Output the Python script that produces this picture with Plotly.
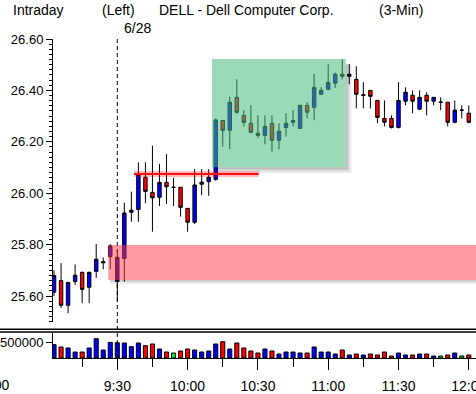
import plotly.graph_objects as go
import pandas as pd

# ---------------- data ----------------
start_time = "2002-06-28 09:03"
n_bars = 60
opens = [25.615, 25.660, 25.564, 25.656, 25.692, 25.634, 25.696, 25.729, 25.753, 25.656,
         25.746, 25.926, 25.937, 26.062, 26.003, 25.984, 26.042, 26.023, 26.023, 25.941,
         25.887, 26.035, 26.045, 26.054, 26.283, 26.245, 26.373, 26.303, 26.272, 26.233,
         26.225, 26.272, 26.206, 26.256, 26.276, 26.252, 26.342, 26.334, 26.385, 26.404,
         26.428, 26.463, 26.455, 26.443, 26.380, 26.400, 26.361, 26.291, 26.291, 26.256,
         26.358, 26.381, 26.327, 26.381, 26.358, 26.354, 26.354, 26.276, 26.323, 26.311]
highs = [25.700, 25.728, 25.655, 25.723, 25.695, 25.695, 25.802, 25.750, 25.802, 25.780,
         25.963, 26.006, 26.120, 26.120, 26.185, 26.114, 26.152, 26.060, 26.023, 25.941,
         26.094, 26.094, 26.094, 26.291, 26.283, 26.376, 26.443, 26.324, 26.343, 26.303,
         26.303, 26.303, 26.272, 26.311, 26.324, 26.342, 26.355, 26.464, 26.412, 26.502,
         26.469, 26.521, 26.502, 26.494, 26.432, 26.400, 26.361, 26.361, 26.303, 26.432,
         26.412, 26.400, 26.400, 26.393, 26.373, 26.373, 26.354, 26.361, 26.342, 26.342]
lows = [25.600, 25.553, 25.533, 25.643, 25.572, 25.572, 25.671, 25.704, 25.704, 25.580,
        25.656, 25.889, 25.889, 25.961, 25.850, 25.950, 25.958, 25.950, 25.909, 25.850,
        25.880, 25.993, 25.990, 26.049, 26.181, 26.171, 26.308, 26.259, 26.233, 26.214,
        26.190, 26.161, 26.171, 26.220, 26.259, 26.252, 26.291, 26.284, 26.382, 26.400,
        26.410, 26.443, 26.424, 26.330, 26.330, 26.330, 26.272, 26.260, 26.252, 26.252,
        26.342, 26.311, 26.323, 26.303, 26.342, 26.323, 26.260, 26.272, 26.291, 26.272]
closes = [25.680, 25.564, 25.653, 25.681, 25.626, 25.692, 25.743, 25.733, 25.795, 25.750,
          25.923, 25.934, 26.074, 26.007, 25.982, 26.042, 26.025, 26.023, 25.945, 25.887,
          26.032, 26.043, 26.062, 26.285, 26.245, 26.354, 26.315, 26.276, 26.237, 26.225,
          26.260, 26.206, 26.241, 26.272, 26.283, 26.342, 26.315, 26.412, 26.400, 26.431,
          26.463, 26.455, 26.463, 26.385, 26.383, 26.377, 26.295, 26.276, 26.256, 26.361,
          26.393, 26.358, 26.373, 26.358, 26.373, 26.354, 26.276, 26.323, 26.323, 26.276]
volumes = [426000, 353000, 321000, 192000, 192000, 321000, 619000, 256000, 500000, 490000,
           481000, 362000, 481000, 394000, 449000, 288000, 192000, 160000, 224000, 288000,
           256000, 192000, 224000, 449000, 522000, 288000, 481000, 321000, 224000, 160000,
           288000, 224000, 128000, 192000, 192000, 160000, 160000, 353000, 192000, 192000,
           128000, 256000, 96000, 128000, 96000, 128000, 96000, 192000, 64000, 160000,
           96000, 96000, 128000, 128000, 64000, 64000, 96000, 160000, 64000, 96000]

y_tick_labels = ["25.60", "25.80", "26.00", "26.20", "26.40", "26.60"]
vol_tick_label = "500000"
title_parts = ["Intraday", "(Left)", "DELL - Dell Computer Corp.", "(3-Min)"]
date_label = "6/28"

times = pd.date_range(start_time, periods=n_bars, freq="3min")

# ---------------- pixel helpers (layout only) ----------------
W, H = 476, 394
L, R, T, B = 53, 0, 39, 36
PW, PH = W - L - R, H - T - B
t930 = pd.Timestamp("2002-06-28 09:30")
PX930, PX_PER_MIN = 117.3, 70.3 / 30.0


def px_time(px):
    return t930 + pd.Timedelta(minutes=(px - PX930) / PX_PER_MIN)


def px_price(py):
    return 25.60 + (296.0 - py) / 257.0


def pxx(px):
    return (px - L) / PW


def pxy(py):
    return (T + PH - py) / PH


FONT = "Liberation Sans, Arial, sans-serif"

vol_colors = ["#0000ff" if c > o else ("#ff0000" if c < o else "#00ee00")
              for o, c in zip(opens, closes)]

fig = go.Figure()
fig.add_trace(go.Candlestick(
    x=times, open=opens, high=highs, low=lows, close=closes,
    increasing=dict(fillcolor="#0000ff", line=dict(color="black", width=1)),
    decreasing=dict(fillcolor="#ff0000", line=dict(color="black", width=1)),
    xaxis="x", yaxis="y", showlegend=False, hoverinfo="skip"))
fig.add_trace(go.Bar(
    x=times, y=volumes, xaxis="x", yaxis="y2", width=3 * 60 * 1000 * 0.58,
    marker=dict(color=vol_colors, line=dict(color="black", width=1)),
    showlegend=False, hoverinfo="skip"))

main_bottom = pxy(322)
vol_top = pxy(333)

fig.update_layout(
    width=W, height=H, margin=dict(l=L, r=R, t=T, b=B, pad=0, autoexpand=False),
    paper_bgcolor="white", plot_bgcolor="white",
    font=dict(family=FONT, size=14, color="black"),
    hovermode=False, showlegend=False,
    xaxis=dict(
        type="date", anchor="y2", domain=[0, 1], automargin=False,
        range=[px_time(L), px_time(W)],
        rangeslider=dict(visible=False),
        showgrid=False, zeroline=False,
        showline=True, linecolor="black", linewidth=1,
        ticks="outside", ticklen=11, tickwidth=1, tickcolor="black",
        tick0="2002-06-28 09:00", dtick=30 * 60 * 1000, tickformat="%-H:%M",
        tickfont=dict(family=FONT, size=14, color="black"),
        ticklabelstandoff=4, ticklabeloverflow="allow",
        minor=dict(ticks="outside", dtick=15 * 60 * 1000, ticklen=8,
                   tickcolor="black", tickwidth=1, showgrid=False),
    ),
    yaxis=dict(
        domain=[main_bottom, 1], range=[px_price(322), 26.60], automargin=False,
        showgrid=False, zeroline=False,
        showline=True, linecolor="black", linewidth=1,
        ticks="outside", ticklen=6, tickwidth=1, tickcolor="black",
        tickvals=[float(v) for v in y_tick_labels], ticktext=y_tick_labels,
        tickfont=dict(family=FONT, size=13, color="black"),
        minor=dict(ticks="outside", dtick=0.02, tick0=25.6, ticklen=3,
                   tickcolor="black", tickwidth=1, showgrid=False),
    ),
    yaxis2=dict(
        domain=[0, vol_top], range=[0, 801000], automargin=False,
        showgrid=False, zeroline=False,
        showline=True, linecolor="black", linewidth=1,
        ticks="outside", ticklen=6, tickwidth=1, tickcolor="black",
        tickvals=[500000], ticktext=[vol_tick_label],
        tickfont=dict(family=FONT, size=13, color="black"),
    ),
)

shapes = []
# double separator line between panels
for py in (329.3, 332.0):
    shapes.append(dict(type="line", xref="paper", yref="paper",
                       x0=pxx(0), x1=pxx(W), y0=pxy(py), y1=pxy(py),
                       line=dict(color="black", width=1.5), layer="above"))
# dashed 9:30 line
shapes.append(dict(type="line", xref="x", yref="paper", x0=t930, x1=t930,
                   y0=0, y1=1, line=dict(color="black", width=1, dash="4px,3px"),
                   layer="above"))

# green box shadow (soft, layered strips)
for d, a in ((6, 0.07), (4, 0.09), (2, 0.12)):
    shapes.append(dict(type="rect", xref="x", yref="y",
                       x0=px_time(345.7), x1=px_time(345.7 + d),
                       y0=px_price(167.3 + d), y1=px_price(64),
                       fillcolor=f"rgba(0,0,0,{a})", line=dict(width=0), layer="below"))
    shapes.append(dict(type="rect", xref="x", yref="y",
                       x0=px_time(217), x1=px_time(345.7),
                       y0=px_price(167.3 + d), y1=px_price(167.3),
                       fillcolor=f"rgba(0,0,0,{a})", line=dict(width=0), layer="below"))
# green box
shapes.append(dict(type="rect", xref="x", yref="y",
                   x0=px_time(212), x1=px_time(345.7),
                   y0=px_price(167.3), y1=px_price(59),
                   fillcolor="rgba(73,188,128,0.55)", line=dict(width=0), layer="above"))

# pink zone shadow
for d, a in ((4, 0.07), (2, 0.12)):
    shapes.append(dict(type="rect", xref="x", yref="y",
                       x0=px_time(110), x1=px_time(W + 20),
                       y0=px_price(280 + d), y1=px_price(280),
                       fillcolor=f"rgba(0,0,0,{a})", line=dict(width=0), layer="below"))
# pink zone
shapes.append(dict(type="rect", xref="x", yref="y",
                   x0=px_time(108.3), x1=px_time(W + 20),
                   y0=px_price(280), y1=px_price(245),
                   fillcolor="rgba(255,55,70,0.5)", line=dict(width=0), layer="above"))

# red resistance line with glow
shapes.append(dict(type="line", xref="x", yref="y",
                   x0=px_time(134), x1=px_time(258.7), y0=px_price(174), y1=px_price(174),
                   line=dict(color="rgba(255,0,0,0.25)", width=6), layer="above"))
shapes.append(dict(type="line", xref="x", yref="y",
                   x0=px_time(134), x1=px_time(258.7), y0=px_price(174), y1=px_price(174),
                   line=dict(color="#ff1010", width=2), layer="above"))
fig.update_layout(shapes=shapes)

ann = []
for text, px in zip(title_parts, (11, 100, 157, 377)):
    ann.append(dict(text=text, xref="paper", yref="paper", x=pxx(px), y=pxy(10),
                    xanchor="left", yanchor="middle", showarrow=False,
                    font=dict(family=FONT, size=14, color="black")))
ann.append(dict(text=date_label, xref="paper", yref="paper", x=pxx(122), y=pxy(28),
                xanchor="left", yanchor="middle", showarrow=False,
                font=dict(family=FONT, size=14, color="black")))
ann.append(dict(text="9:00", xref="paper", yref="paper", x=pxx(11), y=pxy(385),
                xanchor="right", yanchor="middle", showarrow=False,
                font=dict(family=FONT, size=14, color="black")))
fig.update_layout(annotations=ann)

fig.write_html(
    "out.html",
    config={"displayModeBar": False, "staticPlot": True},
    post_script="document.body.style.margin='0';document.body.style.padding='0';",
)
